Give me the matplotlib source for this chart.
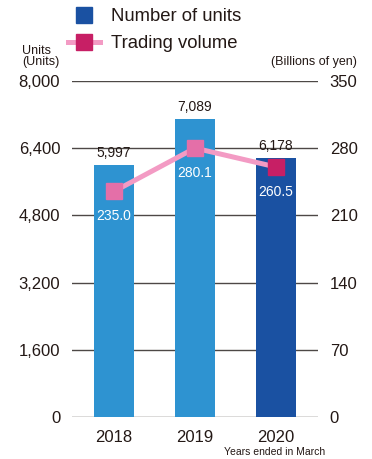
import matplotlib.pyplot as plt
from matplotlib.lines import Line2D

plt.rcParams['font.family'] = ['Liberation Sans', 'DejaVu Sans']

years = ["2018", "2019", "2020"]
units = [5997, 7089, 6178]
volume = [235.0, 280.1, 260.5]
unit_ticks = [0, 1600, 3200, 4800, 6400, 8000]
volume_ticks = [0, 70, 140, 210, 280, 350]

LIGHT_BLUE = "#2e93d1"
DARK_BLUE = "#1a51a2"
PINK_LINE = "#f39bc4"
PINK_MARK = "#e46fa8"
MAGENTA = "#c71f65"
GRID = "#4d4846"
TEXT = "#231815"

fig = plt.figure(figsize=(3.72, 4.59), dpi=100)
ax = fig.add_axes([0.1935, 0.0915, 0.661, 0.732])
ax2 = ax.twinx()

x = list(range(len(years)))
bar_colors = [LIGHT_BLUE, LIGHT_BLUE, DARK_BLUE]
ax.bar(x, units, width=0.5, color=bar_colors, zorder=3)
ax.set_ylim(0, 8000)
ax.set_xlim(-0.52, 2.52)
ax.set_yticks(unit_ticks)
ax.set_yticklabels([f"{v:,}" for v in unit_ticks])
for t in unit_ticks:
    ax.axhline(t, color=GRID, linewidth=1.0, zorder=1)

for xi, v in zip(x, units):
    ax.annotate(f"{v:,}", (xi, v), xytext=(0, 3.5), textcoords="offset points",
                ha="center", va="bottom", fontsize=10, color=TEXT)

ax2.set_ylim(0, 350)
ax2.set_yticks(volume_ticks)
ax2.plot(x, volume, color=PINK_LINE, linewidth=3.6, zorder=4)
mark_colors = [PINK_MARK, PINK_MARK, MAGENTA]
for xi, v, c in zip(x, volume, mark_colors):
    ax2.plot(xi, v, marker="s", markersize=12, color=c, zorder=5)
    ax2.annotate(f"{v:.1f}", (xi, v), xytext=(0, -18), textcoords="offset points",
                 ha="center", va="center", fontsize=10, color="white", zorder=6)

for a in (ax, ax2):
    for s in a.spines.values():
        s.set_visible(False)
    a.tick_params(length=0, labelsize=12, labelcolor=TEXT)
ax.tick_params(axis="y", pad=8.5)
ax2.tick_params(axis="y", pad=8.5)
ax.set_xticks(x)
ax.set_xticklabels(years)
ax.tick_params(axis="x", pad=9)

fig.text(0.06, 0.876, "Units\n(Units)", fontsize=9, color=TEXT, ha="left",
         va="center", linespacing=0.9)
fig.text(0.96, 0.865, "(Billions of yen)", fontsize=9, color=TEXT, ha="right", va="center")
fig.text(0.602, 0.015, "Years ended in March", fontsize=7.5, color=TEXT, ha="left", va="center")

# legend: plain square for the bars, line with square for the volume
handles = [
    Line2D([0], [0], linestyle="none", marker="s", markersize=11.5,
           markerfacecolor=DARK_BLUE, markeredgecolor=DARK_BLUE),
    Line2D([0], [0], color=PINK_LINE, linewidth=3.6, marker="s", markersize=11.5,
           markerfacecolor=MAGENTA, markeredgecolor=MAGENTA),
]
fig.legend(handles, ["Number of units", "Trading volume"], loc="upper left",
           bbox_to_anchor=(0.183, 0.982), frameon=False, fontsize=13.3,
           borderpad=0, borderaxespad=0,
           handlelength=1.75, labelspacing=0.55, handletextpad=0.6,
           labelcolor=TEXT)

fig.savefig("out.png", dpi=100)
